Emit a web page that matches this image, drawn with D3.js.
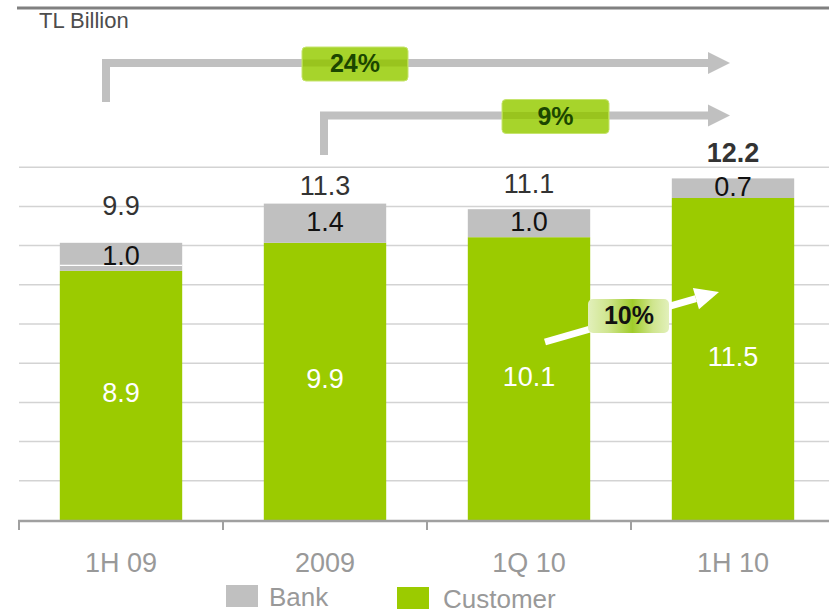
<!DOCTYPE html>
<html>
<head>
<meta charset="utf-8">
<script src="https://cdn.jsdelivr.net/npm/d3@7"></script>
<style>
  html, body { margin: 0; padding: 0; background: #fff; }
  svg { display: block; font-family: "Liberation Sans", Arial, sans-serif; }
</style>
</head>
<body>
<svg id="chart" width="829" height="613"></svg>
<script>
// ---- data ----
const categories = ["1H 09", "2009", "1Q 10", "1H 10"];
const customer = [8.9, 9.9, 10.1, 11.5];
const bank = [1.0, 1.4, 1.0, 0.7];
const totals = [9.9, 11.3, 11.1, 12.2];
const seriesNames = ["Bank", "Customer"];
const growthLabels = ["24%", "9%", "10%"];
const unitLabel = "TL Billion";

// ---- layout ----
const W = 829, H = 613;
const svg = d3.select("#chart");
const green = "#9bcb00", gray = "#c0c0c0";

const x = d3.scaleBand().domain(categories).range([19, 835])
  .paddingInner(0.4).paddingOuter(0.2);
const y = d3.scaleLinear().domain([0, 12.6]).range([520, 167.2]);
const step = x.step();
const cx = i => x(categories[i]) + x.bandwidth() / 2;

// top rule
svg.append("line").attr("x1", 17).attr("x2", W).attr("y1", 8).attr("y2", 8)
  .attr("stroke", "#808080").attr("stroke-width", 3);

// unit label
svg.append("text").attr("x", 39).attr("y", 28).attr("font-size", 22)
  .attr("fill", "#4d4d4d").text(unitLabel);

// gridlines
const gridVals = d3.range(1, 10).map(i => +(i * 1.4).toFixed(2));
svg.append("g").selectAll("line").data(gridVals).join("line")
  .attr("x1", 19).attr("x2", W)
  .attr("y1", d => y(d)).attr("y2", d => y(d))
  .attr("stroke", "#d3d3d3").attr("stroke-width", 1.5);

// bars
const rows = categories.map((c, i) => ({ c, customer: customer[i], bank: bank[i], total: totals[i], i }));
const gBars = svg.append("g");
gBars.selectAll("rect.cust").data(rows).join("rect").attr("class", "cust")
  .attr("x", d => x(d.c)).attr("width", x.bandwidth())
  .attr("y", d => y(d.customer)).attr("height", d => y(0) - y(d.customer))
  .attr("fill", green);
gBars.selectAll("rect.bank").data(rows).join("rect").attr("class", "bank")
  .attr("x", d => x(d.c)).attr("width", x.bandwidth())
  .attr("y", d => y(d.customer + d.bank)).attr("height", d => y(d.customer) - y(d.customer + d.bank))
  .attr("fill", gray);
// thin white seam seen inside the first bank segment
gBars.append("line")
  .attr("x1", x(categories[0])).attr("x2", x(categories[0]) + x.bandwidth())
  .attr("y1", y(customer[0]) - 5.5).attr("y2", y(customer[0]) - 5.5)
  .attr("stroke", "#fff").attr("stroke-width", 1.2);

// axis
const axisY = y(0);
svg.append("line").attr("x1", 18).attr("x2", W).attr("y1", axisY + 1).attr("y2", axisY + 1)
  .attr("stroke", "#a0a0a0").attr("stroke-width", 2.5);
const boundaries = categories.map(c => x(c) - step * 0.2);
svg.append("g").selectAll("line").data(boundaries).join("line")
  .attr("x1", d => d).attr("x2", d => d).attr("y1", axisY).attr("y2", axisY + 10)
  .attr("stroke", "#a0a0a0").attr("stroke-width", 2);
const xAxis = d3.axisBottom(x).tickSize(0).tickPadding(0);
const gx = svg.append("g").attr("transform", `translate(0,${axisY})`).call(xAxis);
gx.select(".domain").remove();
gx.selectAll("text").attr("font-size", 27).attr("fill", "#999")
  .attr("font-family", "Liberation Sans, Arial, sans-serif")
  .attr("dy", null).attr("y", 52);

// value labels
const totalOffsets = [28, 9, 16, 16];
svg.append("g").selectAll("text").data(rows).join("text")
  .attr("x", d => cx(d.i)).attr("y", d => y(d.total) - totalOffsets[d.i])
  .attr("text-anchor", "middle").attr("font-size", 27)
  .attr("font-weight", d => d.i === 3 ? "bold" : "normal")
  .attr("fill", "#333").text(d => d.total.toFixed(1));
svg.append("g").selectAll("text").data(rows).join("text")
  .attr("x", d => cx(d.i))
  .attr("y", d => (y(d.customer) + y(d.customer + d.bank)) / 2 + 8)
  .attr("text-anchor", "middle").attr("font-size", 27)
  .attr("fill", "#111").text(d => d.bank.toFixed(1));
svg.append("g").selectAll("text").data(rows).join("text")
  .attr("x", d => cx(d.i))
  .attr("y", d => (y(0) + y(d.customer)) / 2 + 7)
  .attr("text-anchor", "middle").attr("font-size", 27)
  .attr("fill", "#fff").text(d => d.customer.toFixed(1));

// growth brackets
const tipX = cx(3) - 3;
function bracket(startX, bottomY, lineY, label, boxX, boxW, boxY) {
  const g = svg.append("g");
  g.append("path")
    .attr("d", `M${startX},${bottomY} V${lineY} H${tipX - 22}`)
    .attr("fill", "none").attr("stroke", gray).attr("stroke-width", 8);
  g.append("path")
    .attr("d", `M${tipX - 22},${lineY - 11} L${tipX},${lineY} L${tipX - 22},${lineY + 11} Z`)
    .attr("fill", gray);
  g.append("rect").attr("x", boxX).attr("y", boxY).attr("width", boxW).attr("height", 34)
    .attr("rx", 4).attr("fill", "#a7d42b").attr("stroke", "#c6e46e").attr("stroke-width", 1);
  g.append("rect").attr("x", boxX + 1).attr("y", lineY - 3.5).attr("width", boxW - 2).attr("height", 7)
    .attr("fill", "#99c41e");
  g.append("text").attr("x", boxX + boxW / 2).attr("y", boxY + 25)
    .attr("text-anchor", "middle").attr("font-size", 25).attr("font-weight", "bold")
    .attr("fill", "#1b4600").text(label);
}
bracket(cx(0) - 15, 102, 63, growthLabels[0], 302, 106, 47);
bracket(cx(1) - 1, 155, 115.5, growthLabels[1], 502, 107, 99.5);

// diagonal white arrow
const defs = svg.append("defs");
const grad = defs.append("linearGradient").attr("id", "g10").attr("x1", "0").attr("x2", "1").attr("y1", "0").attr("y2", "0");
grad.append("stop").attr("offset", "0%").attr("stop-color", "#e2f0bb");
grad.append("stop").attr("offset", "25%").attr("stop-color", "#cfe58e");
grad.append("stop").attr("offset", "55%").attr("stop-color", "#a0cc2a");
grad.append("stop").attr("offset", "80%").attr("stop-color", "#cfe58e");
grad.append("stop").attr("offset", "100%").attr("stop-color", "#e2f0bb");

const a0 = [545, 342], a1 = [719, 292];
const dx = a1[0] - a0[0], dy = a1[1] - a0[1], len = Math.hypot(dx, dy);
const ux = dx / len, uy = dy / len, nx = -uy, ny = ux;
const bc = [a1[0] - 24 * ux, a1[1] - 24 * uy];
svg.append("line").attr("x1", a0[0]).attr("y1", a0[1]).attr("x2", bc[0]).attr("y2", bc[1])
  .attr("stroke", "#fff").attr("stroke-width", 7);
svg.append("path")
  .attr("d", `M${a1[0]},${a1[1]} L${bc[0] + 11 * nx},${bc[1] + 11 * ny} L${bc[0] - 11 * nx},${bc[1] - 11 * ny} Z`)
  .attr("fill", "#fff");
svg.append("rect").attr("x", 588).attr("y", 299).attr("width", 81).attr("height", 34)
  .attr("rx", 5).attr("fill", "url(#g10)");
svg.append("text").attr("x", 629).attr("y", 324).attr("text-anchor", "middle")
  .attr("font-size", 25).attr("font-weight", "bold").attr("fill", "#111").text(growthLabels[2]);

// legend
const legend = [
  { name: seriesNames[0], color: gray, sx: 226, sy: 585, tx: 269, ty: 606 },
  { name: seriesNames[1], color: green, sx: 397, sy: 587, tx: 443, ty: 608 }
];
const gl = svg.append("g");
gl.selectAll("rect").data(legend).join("rect")
  .attr("x", d => d.sx).attr("y", d => d.sy).attr("width", 32).attr("height", 22)
  .attr("fill", d => d.color);
gl.selectAll("text").data(legend).join("text")
  .attr("x", d => d.tx).attr("y", d => d.ty).attr("font-size", 26).attr("fill", "#999")
  .text(d => d.name);
</script>
</body>
</html>
